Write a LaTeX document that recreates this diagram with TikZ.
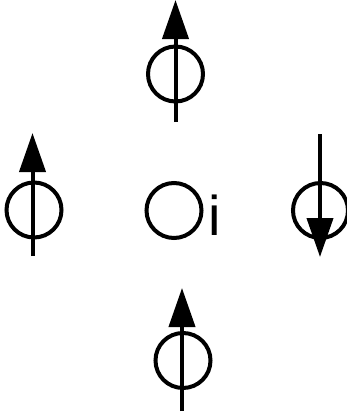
\documentclass[tikz,border=0pt]{standalone}
\usepackage{fontspec}
\setmainfont{Liberation Sans}
\usetikzlibrary{arrows.meta}
\begin{document}
\begin{tikzpicture}[x=1pt,y=-1pt,
  ring/.style={draw=black,line width=4pt,circle,minimum size=55pt,inner sep=0pt},
  spin/.style={line width=4pt,-{Triangle[length=39pt,width=26pt]}}]
\useasboundingbox (0,0) rectangle (346,415);
% top
\node[ring] (c1) at (175.5,74) {};
\coordinate (t1a) at (175.5,122);
\coordinate (t1b) at (175.5,0);
\draw[spin] (t1a) -- (t1b);
% left
\node[ring] (c2) at (34,210) {};
\coordinate (t2a) at (32.5,256);
\coordinate (t2b) at (32.5,133);
\draw[spin] (t2a) -- (t2b);
% center
\node[ring] (c3) at (174,210.5) {};
\node[anchor=base west,inner sep=0pt,font=\fontsize{56}{60}\selectfont] (lab) at (208.5,235) {i};
% right
\node[ring] (c4) at (320.5,210.5) {};
\coordinate (t4a) at (320,134);
\coordinate (t4b) at (320,257);
\draw[spin] (t4a) -- (t4b);
% bottom
\node[ring] (c5) at (183,360.5) {};
\coordinate (t5a) at (182,411);
\coordinate (t5b) at (182,288);
\draw[spin] (t5a) -- (t5b);
\end{tikzpicture}
\end{document}
